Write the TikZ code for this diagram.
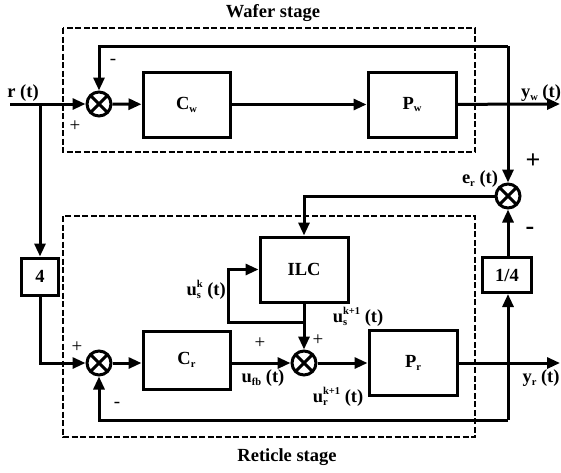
\documentclass[tikz,border=0pt]{standalone}
\usepackage{fontspec}
\setmainfont{Liberation Serif}
\usetikzlibrary{arrows.meta}
\newcommand\lblfont{\fontsize{18.5}{20}\selectfont\bfseries}
\newcommand\lsub[1]{\raisebox{-0.35ex}{\fontsize{10.5}{10.5}\selectfont #1}}
\newcommand\lsup[1]{\raisebox{1.0ex}{\fontsize{10.5}{10.5}\selectfont #1}}
\newcommand\lsubsup[2]{\rlap{\lsub{#1}}\lsup{#2}}
\begin{document}
\begin{tikzpicture}[x=1pt,y=-1pt,
  lw/.style={line width=3pt},
  blk/.style={draw,lw,inner sep=0pt,font=\lblfont},
  sumj/.style={circle,draw,lw,minimum size=24pt,inner sep=0pt,
    path picture={\draw[lw] (path picture bounding box.south west) -- (path picture bounding box.north east)
      (path picture bounding box.north west) -- (path picture bounding box.south east);}},
  conn/.style={lw},
  arr/.style={lw,-{Triangle[length=13pt,width=11pt]}},
  stagebox/.style={line width=2.4pt,dash pattern=on 6pt off 2.5pt},
  lbl/.style={font=\lblfont,inner sep=0pt},
  sign/.style={font=\fontsize{19}{19}\selectfont,inner sep=0pt},
  bsign/.style={font=\fontsize{26}{26}\selectfont\bfseries,inner sep=0pt}]
\useasboundingbox (0,0) rectangle (561,472);

% stage boxes
\draw[stagebox] (63,28) rectangle (475,152);
\draw[stagebox] (63,216) rectangle (475,437);
\node[lbl] (wst) at (273,13) {Wafer stage};
\node[lbl] (rst) at (287,457) {Reticle stage};

% wafer stage
\coordinate (rin) at (10,104);
\coordinate (rbr) at (40,104);
\node[sumj] (sw) at (99,104) {};
\node[blk,minimum width=87pt,minimum height=65pt] (Cw) at (186.5,104.5) {C\lsub{w}};
\node[blk,minimum width=88pt,minimum height=65pt] (Pw) at (412,104.5) {P\lsub{w}};
\coordinate (ywend) at (560,104);
\coordinate (fbw) at (508,46);

\draw[arr] (rin) -- (sw);
\draw[arr] (sw) -- (Cw);
\draw[arr] (Cw) -- (Pw);
\draw[arr] (Pw) -- (ywend);
\draw[arr] (fbw) -| (sw);

% reticle stage
\node[blk,minimum width=37pt,minimum height=37pt] (four) at (40,276.5) {4};
\node[sumj] (sr) at (99,363) {};
\node[blk,minimum width=87pt,minimum height=58pt] (Cr) at (186.5,360) {C\lsub{r}};
\node[sumj] (s2) at (304,363) {};
\node[blk,minimum width=88pt,minimum height=65pt] (ILC) at (304,269.5) {ILC};
\node[blk,minimum width=88pt,minimum height=65pt] (Pr) at (413,362.5) {P\lsub{r}};
\coordinate (yrend) at (560,363);
\coordinate (ytap) at (508,363);
\coordinate (fbr) at (508,420);
\node[blk,minimum width=49pt,minimum height=35pt] (quart) at (507,275) {1/4};
\node[sumj] (er) at (508,196) {};
\coordinate (ilcin) at (304,196);
\coordinate (ilctap) at (304,322);
\coordinate (loopc) at (228,322);

\draw[arr] (rbr) -- (four);
\draw[arr] (four) |- (sr);
\draw[arr] (sr) -- (sr -| Cr.west);
\draw[arr] (Cr.east |- s2) -- (s2);
\draw[arr] (s2) -- (s2 -| Pr.west);
\draw[arr] (Pr.east |- yrend) -- (yrend);
\draw[arr] (ytap) -- (quart.south -| ytap);
\draw[conn] (ytap) -- (fbr);
\draw[arr] (fbr) -| (sr);
\draw[arr] (quart.north -| er) -- (er);
\draw[arr] (fbw) -- (er);
\draw[arr] (er) -- (ilcin) -- (ILC);
\draw[arr] (ILC) -- (s2);
\draw[arr] (ilctap) -- (loopc) |- (ILC.west);

% labels
\node[lbl] at (23,93) {r (t)};
\node[sign] at (75,126) {+};
\node[sign] at (113,62) {-};
\node[lbl] at (541,93) {y\lsub{w} (t)};
\node[bsign] at (533,161) {+};
\node[lbl] at (480,179) {e\lsub{r} (t)};
\node[bsign] at (530,231) {-};
\node[lbl,anchor=east] at (226,290) {u\lsubsup{s}{k} (t)};
\node[sign] at (260,343) {+};
\node[lbl] at (263,378) {u\lsub{fb} (t)};
\node[sign] at (318,340) {+};
\node[lbl] at (358,317) {u\lsubsup{s}{k+1} (t)};
\node[lbl] at (338,397) {u\lsubsup{r}{k+1} (t)};
\node[lbl] at (541,378) {y\lsub{r} (t)};
\node[sign] at (77,347) {+};
\node[sign] at (117,405) {-};
\end{tikzpicture}
\end{document}
